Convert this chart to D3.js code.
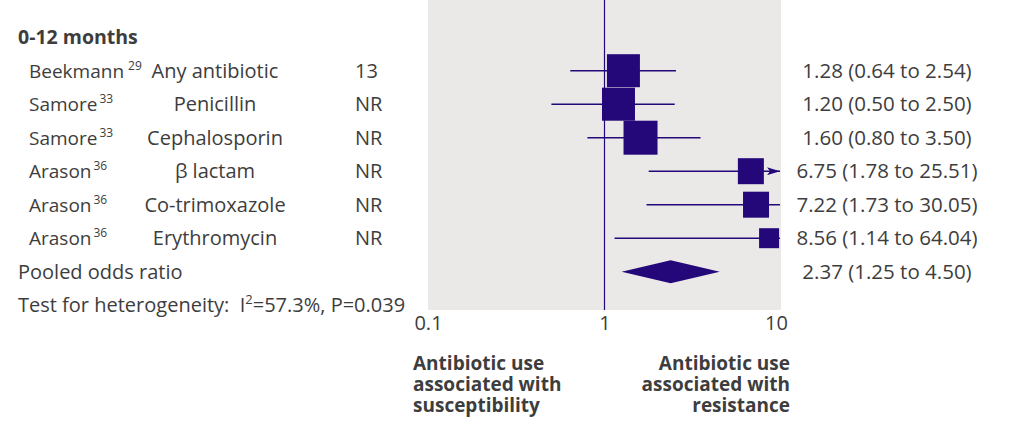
<!DOCTYPE html>
<html>
<head>
<meta charset="utf-8">
<script src="https://cdn.jsdelivr.net/npm/d3@7"></script>
<style>
  html, body { margin: 0; padding: 0; background: #ffffff; }
  svg { display: block; }
  text { font-family: "Open Sans", "Noto Sans", sans-serif; fill: #3d3d3d; }
</style>
</head>
<body>
<svg id="chart" width="1010" height="439"></svg>
<script>
// ---- data ----
const groupTitle = "0-12 months";
const studies = ["Beekmann", "Samore", "Samore", "Arason", "Arason", "Arason"];
const refs = ["29", "33", "33", "36", "36", "36"];
const antibiotics = ["Any antibiotic", "Penicillin", "Cephalosporin", "\u03B2 lactam", "Co-trimoxazole", "Erythromycin"];
const sampleN = ["13", "NR", "NR", "NR", "NR", "NR"];
const oddsRatio = [1.28, 1.20, 1.60, 6.75, 7.22, 8.56];
const lowerCI = [0.64, 0.50, 0.80, 1.78, 1.73, 1.14];
const upperCI = [2.54, 2.50, 3.50, 25.51, 30.05, 64.04];
const boxWeight = [33, 33, 34, 26, 26, 20];
const pooledLabel = "Pooled odds ratio";
const pooled = [2.37, 1.25, 4.50];
const tickValues = [0.1, 1, 10];
const xDomain = [0.1, 10];
const leftAxisLabel = ["Antibiotic use", "associated with", "susceptibility"];
const rightAxisLabel = ["Antibiotic use", "associated with", "resistance"];

// ---- layout ----
const svg = d3.select("#chart");
const markColor = "#24087a";
const panel = { x0: 428, x1: 781, y0: 0, y1: 310 };

const x = d3.scaleLog().domain(xDomain).range([panel.x0, panel.x1]);
const rowIdx = d3.range(studies.length + 1);
const y = d3.scalePoint().domain(rowIdx).range([70.7, 271.7]);
const boxScale = d3.scaleLinear().domain([0, 34]).range([0, 34]);

const fmt = d3.format(".2f");
const ciText = (o, l, u) => `${fmt(o)} (${fmt(l)} to ${fmt(u)})`;

// panel background
svg.append("rect")
  .attr("x", panel.x0).attr("y", panel.y0)
  .attr("width", panel.x1 - panel.x0).attr("height", panel.y1 - panel.y0)
  .attr("fill", "#ebe9e8");

// null line
svg.append("line")
  .attr("x1", x(1)).attr("x2", x(1))
  .attr("y1", panel.y0).attr("y2", panel.y1)
  .attr("stroke", markColor).attr("stroke-width", 1.2);

// arrow marker
const defs = svg.append("defs");
defs.append("marker")
  .attr("id", "arrow")
  .attr("viewBox", "0 0 13 8")
  .attr("refX", 13).attr("refY", 4)
  .attr("markerWidth", 13).attr("markerHeight", 8)
  .attr("markerUnits", "userSpaceOnUse")
  .attr("orient", "auto")
  .append("path")
  .attr("d", "M0,0 L13,4 L0,8 L3,4 Z")
  .attr("fill", markColor);

const rows = d3.range(studies.length).map(i => ({
  i, or: oddsRatio[i], lo: lowerCI[i], hi: upperCI[i], w: boxWeight[i]
}));

const clampX = v => Math.max(panel.x0, Math.min(panel.x1 - 1, x(v)));

// CI lines
svg.append("g").selectAll("line")
  .data(rows).join("line")
  .attr("x1", d => clampX(d.lo))
  .attr("x2", d => clampX(d.hi))
  .attr("y1", d => y(d.i)).attr("y2", d => y(d.i))
  .attr("stroke", markColor).attr("stroke-width", 1.6)
  .attr("marker-end", d => (d.hi > xDomain[1] && x(d.or) + boxScale(d.w) / 2 < panel.x1 - 12) ? "url(#arrow)" : null);

// boxes
svg.append("g").selectAll("rect")
  .data(rows).join("rect")
  .attr("x", d => x(d.or) - boxScale(d.w) / 2)
  .attr("y", d => y(d.i) - boxScale(d.w) / 2)
  .attr("width", d => Math.min(boxScale(d.w), panel.x1 - 1 - (x(d.or) - boxScale(d.w) / 2)))
  .attr("height", d => boxScale(d.w))
  .attr("fill", markColor);

// pooled diamond
const py = y(studies.length);
svg.append("path")
  .attr("d", `M${x(pooled[1])},${py} L${x(pooled[0])},${py - 11.5} L${x(pooled[2])},${py} L${x(pooled[0])},${py + 11.5} Z`)
  .attr("fill", markColor);

// ---- left text columns ----
svg.append("text")
  .attr("x", 18).attr("y", 44)
  .attr("font-size", 19.5).attr("font-weight", "bold")
  .text(groupTitle);

const fs = 20;
const nameT = svg.append("g").selectAll("text")
  .data(rows).join("text")
  .attr("x", 29).attr("y", d => y(d.i) + 7)
  .attr("font-size", 19);
nameT.append("tspan").text(d => studies[d.i]);
nameT.append("tspan")
  .attr("dx", d => d.i === 0 ? 4 : 2).attr("dy", -8)
  .attr("font-size", 12)
  .text(d => refs[d.i]);

svg.append("g").selectAll("text")
  .data(rows).join("text")
  .attr("x", 215).attr("y", d => y(d.i) + 7)
  .attr("text-anchor", "middle")
  .attr("font-size", fs)
  .text(d => antibiotics[d.i]);

svg.append("g").selectAll("text")
  .data(rows).join("text")
  .attr("x", 355).attr("y", d => y(d.i) + 7)
  .attr("font-size", fs)
  .text(d => sampleN[d.i]);

svg.append("text")
  .attr("x", 18).attr("y", py + 7)
  .attr("font-size", fs)
  .text(pooledLabel);

const het = svg.append("text")
  .attr("x", 18).attr("y", 312)
  .attr("font-size", fs);
het.append("tspan").text("Test for heterogeneity:\u00A0 I");
het.append("tspan").attr("dy", -8).attr("font-size", 13).text("2");
het.append("tspan").attr("dy", 8).text("=57.3%, P=0.039");

// ---- right text ----
const rfs = 20.5;
svg.append("g").selectAll("text")
  .data(rows).join("text")
  .attr("x", 887).attr("y", d => y(d.i) + 7)
  .attr("text-anchor", "middle")
  .attr("font-size", rfs)
  .text(d => ciText(d.or, d.lo, d.hi));

svg.append("text")
  .attr("x", 887).attr("y", py + 7)
  .attr("text-anchor", "middle")
  .attr("font-size", rfs)
  .text(ciText(pooled[0], pooled[1], pooled[2]));

// ---- x axis ----
const axis = d3.axisBottom(x)
  .tickValues(tickValues)
  .tickFormat(d3.format("~g"))
  .tickSize(0).tickPadding(6);
const gAxis = svg.append("g")
  .attr("transform", `translate(0,${panel.y1})`)
  .call(axis);
gAxis.select(".domain").remove();
gAxis.selectAll("text")
  .attr("font-size", fs)
  .attr("font-family", "'Open Sans', 'Noto Sans', sans-serif")
  .attr("fill", "#3d3d3d")
  .attr("dx", d => d === 10 ? -5 : 0);

// ---- bottom labels ----
const lblL = svg.append("text")
  .attr("x", 413).attr("font-size", 19).attr("font-weight", "bold");
lblL.selectAll("tspan").data(leftAxisLabel).join("tspan")
  .attr("x", 413).attr("y", (d, i) => 370 + i * 21).text(d => d);

const lblR = svg.append("text")
  .attr("x", 790).attr("font-size", 19).attr("font-weight", "bold")
  .attr("text-anchor", "end");
lblR.selectAll("tspan").data(rightAxisLabel).join("tspan")
  .attr("x", 790).attr("y", (d, i) => 370 + i * 21).text(d => d);
</script>
</body>
</html>
